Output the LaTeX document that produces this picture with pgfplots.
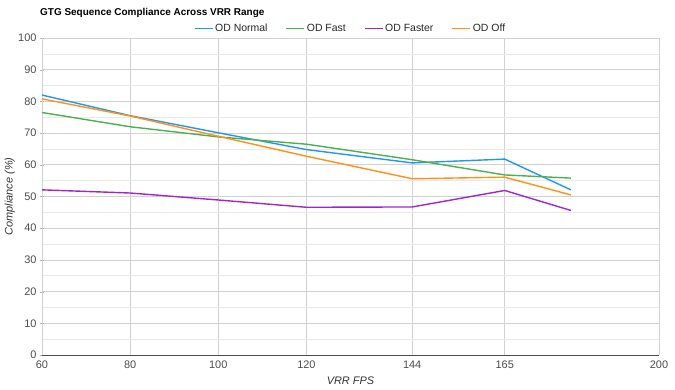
\documentclass[border=0pt]{standalone}
\usepackage{fontspec}
\setmainfont{Liberation Sans}
\usepackage{pgfplots}
\pgfplotsset{compat=1.18}
\definecolor{cblue}{HTML}{2196F3}
\definecolor{cgreen}{HTML}{4CAF50}
\definecolor{cpurple}{HTML}{9C27D0}
\definecolor{corange}{HTML}{FF9214}
\begin{document}
\begin{tikzpicture}
\useasboundingbox (-42bp,-35bp) rectangle (633bp,355bp);
\begin{axis}[
  at={(0,0)}, anchor=south west,
  scale only axis, width=617bp, height=317bp,
  xmin=60, xmax=200, ymin=0, ymax=100,
  xtick={60,80,100,120,144,165,200},
  ytick={0,10,...,100}, minor y tick num=1,
  grid=both,
  major grid style={draw=gray!35, line width=0.6pt},
  minor grid style={draw=gray!17, line width=0.6pt},
  axis x line=bottom, axis y line=left,
  x axis line style={-, draw=black!70, line width=0.8pt},
  y axis line style={-, draw=gray!35},
  xtick style={draw=none}, minor tick length=0pt,
  ytick style={draw=gray!60}, major tick length=4bp,
  /pgf/number format/assume math mode=true,
  tick label style={font=\fontsize{11}{12}\selectfont, text=black!70},
  xlabel={VRR FPS}, ylabel={Compliance (\%)},
  label style={font=\fontsize{11}{12}\selectfont\itshape, text=black!80},
  xlabel style={at={(axis description cs:0.5,-0.082)}, anchor=center},
  ylabel style={at={(axis description cs:-0.052,0.5)}, anchor=center},
  legend style={at={(0.5,1)}, anchor=south, yshift=1bp, draw=none, fill=none,
    font=\fontsize{10.5}{12}\selectfont, text=black!85, legend columns=-1,
    /tikz/every even column/.append style={column sep=16bp}},
  legend image code/.code={\draw[#1, line width=1.4bp] (0bp,0bp) -- (18bp,0bp);},
  clip=false,
]
\addplot[cblue, line width=1.4bp] coordinates {(60,82) (80,75.5) (100,70.1) (120,64.8) (144,60.6) (165,61.8) (180,52.1)};
\addlegendentry{OD Normal}
\addplot[cgreen, line width=1.4bp] coordinates {(60,76.5) (80,72) (100,68.8) (120,66.5) (144,61.6) (165,56.8) (180,55.8)};
\addlegendentry{OD Fast}
\addplot[cpurple, line width=1.4bp] coordinates {(60,52.1) (80,51.1) (100,48.9) (120,46.6) (144,46.7) (165,51.9) (180,45.6)};
\addlegendentry{OD Faster}
\addplot[corange, line width=1.4bp] coordinates {(60,80.8) (80,75.4) (100,69) (120,62.7) (144,55.6) (165,56.1) (180,50.5)};
\addlegendentry{OD Off}
\end{axis}
\node[anchor=base west, font=\fontsize{10}{12}\selectfont\bfseries, inner sep=0pt] at (-2bp,339bp) {GTG Sequence Compliance Across VRR Range};
\end{tikzpicture}
\end{document}
